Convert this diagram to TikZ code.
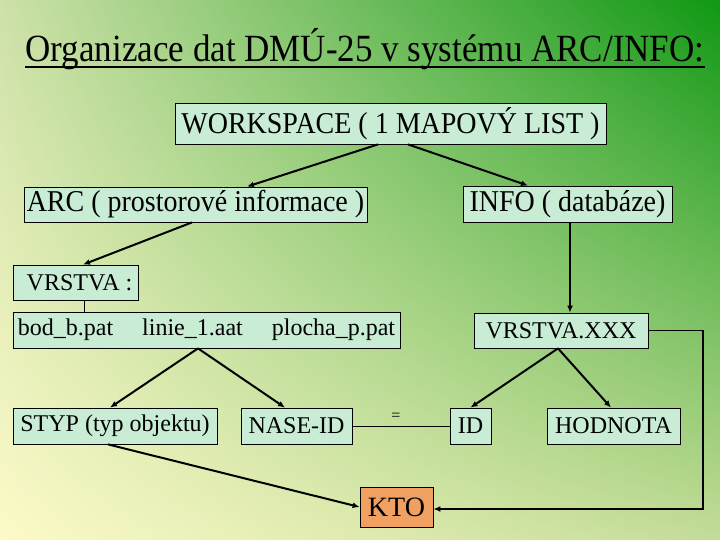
\documentclass[tikz,border=0pt]{standalone}
\usepackage{fontspec}
\setmainfont{Liberation Serif}
\usetikzlibrary{arrows.meta,calc,shadings}
\definecolor{boxfill}{RGB}{200,236,212}
\definecolor{ktofill}{RGB}{240,160,96}
\definecolor{bgLL}{RGB}{252,250,200}
\definecolor{bgUL}{RGB}{205,225,168}
\definecolor{bgLR}{RGB}{196,220,152}
\definecolor{bgUR}{RGB}{16,152,20}
\begin{document}
\begin{tikzpicture}[x=1pt,y=-1pt,
  box/.style={draw=black, line width=0.8pt, fill=boxfill, inner sep=0pt, anchor=center},
  big/.style={font=\fontsize{28}{30}\selectfont},
  small/.style={font=\fontsize{24}{26}\selectfont},
  arr/.style={-{Latex[length=7pt,width=6pt]}, line width=2pt},
  plain/.style={line width=0.8pt}]
\useasboundingbox (0,0) rectangle (720,540);
\shade[lower left=bgLL, upper left=bgUL, lower right=bgLR, upper right=bgUR] (0,0) rectangle (720,540);

% title
\node[anchor=base, font=\fontsize{35}{38}\selectfont, inner sep=0pt] (title) at (365,62) {\scalebox{1}[1.1]{Organizace dat DMÚ-25 v systému ARC/INFO:}};
\draw[line width=2pt] ([yshift=-5pt]title.base west) -- ([yshift=-5pt]title.base east);

% boxes
\node[box, big, minimum width=431pt, minimum height=41pt] (ws) at (390.5,123.5) {\scalebox{1}[1.08]{WORKSPACE ( 1 MAPOVÝ LIST )}};
\node[box, big, minimum width=343pt, minimum height=35pt] (arc) at (195.5,204.5) {\scalebox{1}[1.08]{ARC ( prostorové informace )}};
\node[box, big, minimum width=209pt, minimum height=36pt] (info) at (567.5,204) {\scalebox{1}[1.08]{INFO ( databáze)}};
\node[box, small, minimum width=125pt, minimum height=35pt] (vr) at (75.5,282.5) {\hspace{8pt}VRSTVA :};
\node[box, small, minimum width=387pt, minimum height=36pt] (bod) at (206.5,330) {bod\_b.pat\hspace{29pt}linie\_1.aat\hspace{29pt}plocha\_p.pat};
\node[box, small, minimum width=174pt, minimum height=35pt] (vx) at (561,330.5) {VRSTVA.XXX};
\node[box, small, minimum width=204pt, minimum height=36pt] (styp) at (115,426) {STYP (typ objektu)};
\node[box, small, minimum width=111pt, minimum height=36pt] (nase) at (296.5,426) {NASE-ID};
\node[box, small, minimum width=41pt, minimum height=36pt] (id) at (470.5,426) {ID};
\node[box, small, minimum width=133pt, minimum height=36pt] (hod) at (613.5,426) {HODNOTA};
\node[box, big, fill=ktofill, minimum width=73pt, minimum height=40pt] (kto) at (396.5,507) {KTO};
\node[font=\fontsize{16}{18}\selectfont, inner sep=0pt] (eq) at (396,417) {=};
\coordinate (corner) at (703,509);

% connectors
\draw[arr] ([xshift=-12.5pt]ws.south) -- ([xshift=51.5pt]arc.north);
\draw[arr] ([xshift=17.5pt]ws.south) -- ([xshift=-39.5pt]info.north);
\draw[arr] ([xshift=-3.5pt]arc.south) -- ([xshift=7.5pt]vr.north);
\draw[arr] ([xshift=2.5pt]info.south) -- ([xshift=2.5pt]info.south |- vx.north);
\draw[plain] ([xshift=8.5pt]vr.south) -- ([xshift=8.5pt]vr.south |- bod.north);
\draw[arr] ([xshift=-8.5pt]bod.south) -- ([xshift=-5pt]styp.north);
\draw[arr] ([xshift=-8.5pt]bod.south) -- ([xshift=-11.5pt]nase.north);
\draw[arr] ([xshift=-3pt]vx.south) -- (id.north);
\draw[arr] ([xshift=-3pt]vx.south) -- ([xshift=-2.5pt]hod.north);
\draw[plain] (nase.east) -- (id.west);
\draw[arr] ([xshift=-7pt]styp.south) -- (kto.west);
\draw[line width=1.4pt, -{Latex[length=7pt,width=6pt]}] (vx.east) -- (vx.east -| corner) -- (corner) -- (corner -| kto.east);
\end{tikzpicture}
\end{document}
